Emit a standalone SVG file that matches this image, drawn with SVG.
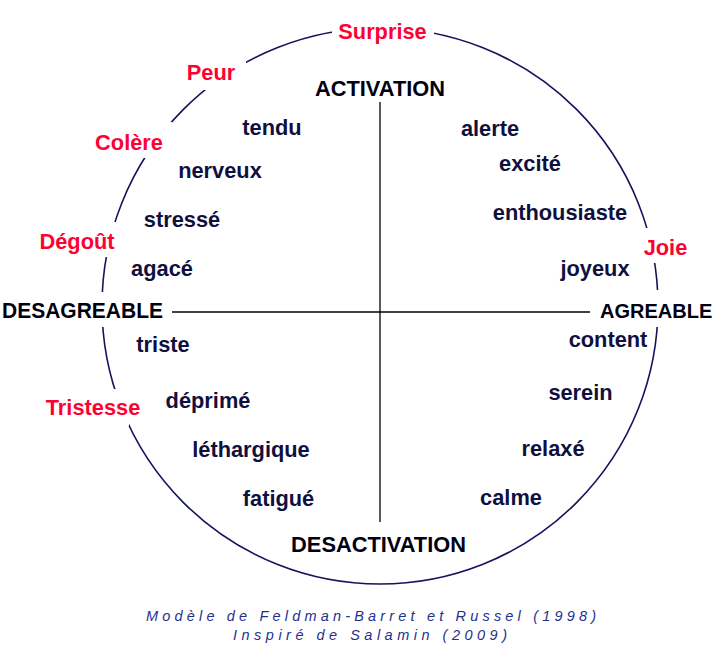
<svg xmlns="http://www.w3.org/2000/svg" width="716" height="658" viewBox="0 0 716 658">
<style>
text{font-family:"Liberation Sans",Arial,sans-serif;font-weight:bold;font-size:21.8px;text-anchor:middle}
.w{fill:#0f1040}
.e{fill:#ff0033}
.a{fill:#000010}
.c{font-weight:normal;font-style:italic;font-size:14.5px;fill:#1f2f8f;text-anchor:start}
.mask{fill:#ffffff}
</style>
<rect width="716" height="658" fill="#ffffff"/>
<g id="connectors">
<circle cx="380" cy="306" r="278" fill="none" stroke="#14145e" stroke-width="1.6"/>
<line x1="380" y1="102" x2="380" y2="522" stroke="#000" stroke-width="1.3"/>
<line x1="172" y1="312" x2="590" y2="312" stroke="#000" stroke-width="1.3"/>
</g>
<g id="masks">
<rect class="mask" x="332" y="14" width="102" height="32"/>
<rect class="mask" x="180" y="58" width="66" height="32"/>
<rect class="mask" x="92" y="122" width="80" height="36"/>
<rect class="mask" x="36" y="222" width="82" height="35"/>
<rect class="mask" x="43" y="389" width="86" height="37"/>
<rect class="mask" x="639" y="228" width="54" height="35"/>
<rect class="mask" x="0" y="292" width="168" height="35"/>
<rect class="mask" x="595" y="290" width="121" height="37"/>
</g>
<g id="axis-activation"><text class="a" x="380" y="96">ACTIVATION</text></g>
<g id="axis-desactivation"><text class="a" x="378.5" y="552">DESACTIVATION</text></g>
<g id="axis-desagreable"><text class="a" x="2" y="318" style="text-anchor:start" textLength="161" lengthAdjust="spacingAndGlyphs">DESAGREABLE</text></g>
<g id="axis-agreable"><text class="a" x="600" y="318" style="text-anchor:start;font-size:20px">AGREABLE</text></g>
<g id="emo-surprise"><text class="e" x="382.5" y="39">Surprise</text></g>
<g id="emo-peur"><text class="e" x="211" y="80">Peur</text></g>
<g id="emo-colere"><text class="e" x="129" y="150">Colère</text></g>
<g id="emo-degout"><text class="e" x="77" y="249">Dégoût</text></g>
<g id="emo-tristesse"><text class="e" x="93" y="415">Tristesse</text></g>
<g id="emo-joie"><text class="e" x="665.5" y="255">Joie</text></g>
<g id="w-tendu"><text class="w" x="272" y="135">tendu</text></g>
<g id="w-nerveux"><text class="w" x="220" y="178">nerveux</text></g>
<g id="w-stresse"><text class="w" x="182" y="227">stressé</text></g>
<g id="w-agace"><text class="w" x="162" y="276">agacé</text></g>
<g id="w-triste"><text class="w" x="163" y="352">triste</text></g>
<g id="w-deprime"><text class="w" x="208" y="408">déprimé</text></g>
<g id="w-lethargique"><text class="w" x="251" y="457">léthargique</text></g>
<g id="w-fatigue"><text class="w" x="278.5" y="506">fatigué</text></g>
<g id="w-alerte"><text class="w" x="490" y="136">alerte</text></g>
<g id="w-excite"><text class="w" x="530" y="171">excité</text></g>
<g id="w-enthousiaste"><text class="w" x="560" y="220">enthousiaste</text></g>
<g id="w-joyeux"><text class="w" x="595" y="276">joyeux</text></g>
<g id="w-content"><text class="w" x="608" y="347">content</text></g>
<g id="w-serein"><text class="w" x="580.5" y="400">serein</text></g>
<g id="w-relaxe"><text class="w" x="553" y="456">relaxé</text></g>
<g id="w-calme"><text class="w" x="511" y="505">calme</text></g>
<g id="caption">
<text class="c" x="146" y="621" textLength="450" lengthAdjust="spacing">Modèle de Feldman-Barret et Russel (1998)</text>
<text class="c" x="233" y="640" textLength="274" lengthAdjust="spacing">Inspiré de Salamin (2009)</text>
</g>
</svg>
